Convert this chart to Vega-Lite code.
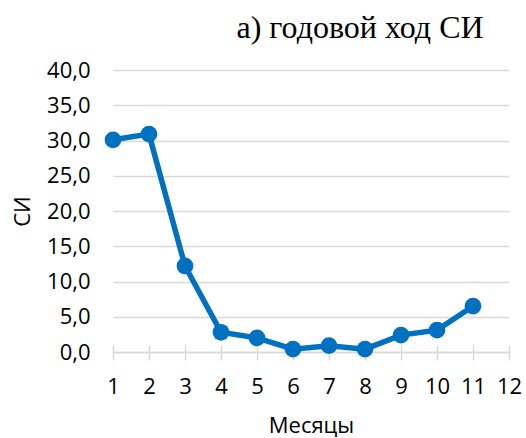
{
  "$schema": "https://vega.github.io/schema/vega-lite/v6.json",
  "width": 396,
  "height": 282,
  "autosize": {"type": "none"},
  "padding": {"left": 113, "top": 70, "right": 17, "bottom": 86},
  "background": "white",
  "config": {"view": {"stroke": null}, "font": "Open Sans"},
  "title": {
    "text": "а) годовой ход СИ",
    "font": "Liberation Serif",
    "fontSize": 32,
    "fontWeight": "normal",
    "color": "#000000",
    "anchor": "middle",
    "dx": 49,
    "offset": 14
  },
  "data": {
    "values": [
      {"month": 1, "si": 30.1},
      {"month": 2, "si": 30.9},
      {"month": 3, "si": 12.2},
      {"month": 4, "si": 2.8},
      {"month": 5, "si": 2.0},
      {"month": 6, "si": 0.4},
      {"month": 7, "si": 0.9},
      {"month": 8, "si": 0.4},
      {"month": 9, "si": 2.4},
      {"month": 10, "si": 3.1},
      {"month": 11, "si": 6.5}
    ]
  },
  "encoding": {
    "y": {
      "field": "si",
      "type": "quantitative",
      "scale": {"domain": [0, 40], "nice": false},
      "axis": {
        "values": [0, 5, 10, 15, 20, 25, 30, 35, 40],
        "labelExpr": "replace(format(datum.value, '.1f'), '.', ',')",
        "title": "СИ",
        "domain": false,
        "ticks": false,
        "grid": true,
        "gridColor": "#d9d9d9",
        "gridWidth": 1.5,
        "labelFontSize": 22,
        "labelColor": "#000000",
        "labelPadding": 23,
        "titleFontSize": 22,
        "titleFontWeight": "normal",
        "titleColor": "#000000",
        "titlePadding": 12
      }
    }
  },
  "resolve": {"axis": {"x": "independent"}},
  "layer": [
    {
      "mark": {"type": "line", "color": "#0070C0", "strokeWidth": 5.5},
      "encoding": {
        "x": {
          "field": "month",
          "type": "quantitative",
          "scale": {"domain": [1, 12], "nice": false, "zero": false},
          "axis": {
            "orient": "bottom",
            "values": [1, 2, 3, 4, 5, 6, 7, 8, 9, 10, 11, 12],
            "title": "Месяцы",
            "grid": false,
            "domainColor": "#d9d9d9",
            "domainWidth": 1.5,
            "ticks": false,
            "labelFontSize": 22,
            "labelColor": "#000000",
            "labelPadding": 24,
            "labelFlush": false,
            "titleFontSize": 22,
            "titleFontWeight": "normal",
            "titleColor": "#000000",
            "titlePadding": 18
          }
        }
      }
    },
    {
      "mark": {"type": "point", "filled": true, "size": 280, "color": "#0070C0", "opacity": 1},
      "encoding": {
        "x": {
          "field": "month",
          "type": "quantitative",
          "axis": {
            "orient": "bottom",
            "offset": -7,
            "values": [1, 2, 3, 4, 5, 6, 7, 8, 9, 10, 11, 12],
            "title": null,
            "grid": false,
            "domain": false,
            "labels": false,
            "tickColor": "#d9d9d9",
            "tickWidth": 1.5,
            "tickSize": 15,
            "zindex": 0
          }
        }
      }
    }
  ]
}
